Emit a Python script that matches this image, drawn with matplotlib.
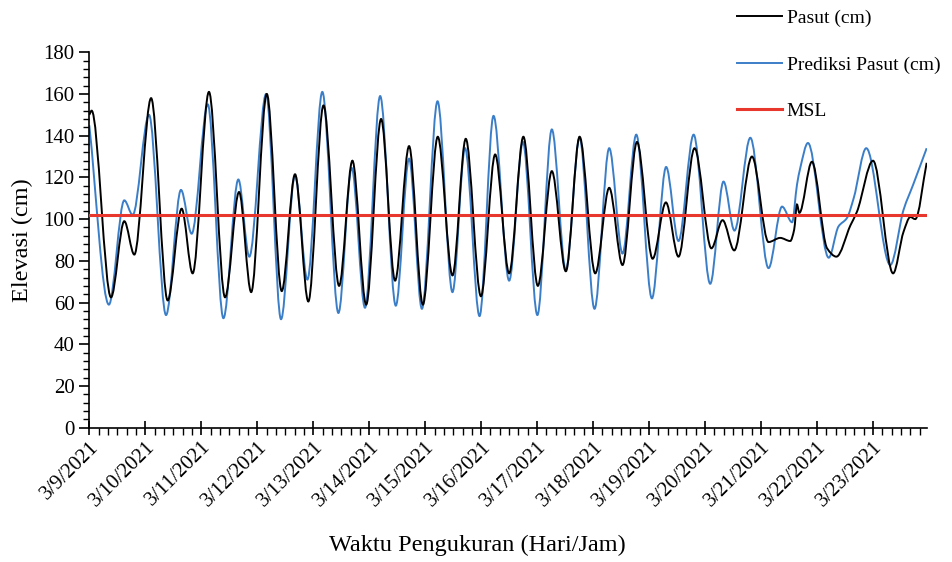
# Pasut vs prediksi pasut, 9-23 Maret 2021

import numpy as np
import matplotlib
matplotlib.use("Agg")
import matplotlib.pyplot as plt
import matplotlib.dates as mdates
from matplotlib.path import Path
from matplotlib.patches import PathPatch
from matplotlib.lines import Line2D
from matplotlib.ticker import FuncFormatter, MultipleLocator
from datetime import datetime

plt.rcParams['font.family'] = ['Liberation Serif', 'DejaVu Serif']

# Turning points: hours since 3/9/2021 00:00, elevation (cm)
pasut_jam = [0, 1, 9.3, 15.0, 19.3, 26.5, 33.6, 39.6, 44.3, 51.3, 58.2, 64.2, 69.4,
             76.1, 82.5, 88.2, 93.9, 100.4, 107.1, 112.8, 118.7, 125.1, 131.1, 137.1,
             143.0, 149.4, 155.7, 161.4, 167.9, 174.0, 180.0, 186.1, 192.3, 198.3,
             204.3, 210.2, 216.9, 222.9, 228.6, 234.8, 241.5, 247.2, 252.6, 259.5,
             266.7, 271.5, 276.5, 284.1, 291.2, 296.2, 300.5, 302.2, 303.4, 304.4,
             309.8, 316.3, 320.3, 326.3, 329.1, 336.0, 344.6, 349.1, 352.0, 354.1, 359]
pasut = [150, 152, 62.5, 99, 83, 158, 61, 105, 74, 161, 62.5, 113, 65,
         160, 65.5, 121.5, 60.5, 154.5, 68, 128, 59, 148, 70.5, 135,
         59, 139.5, 73, 138.5, 63, 131, 74, 139.5, 68, 123,
         75, 139.5, 74, 115, 78, 137, 81, 108, 82, 134,
         86, 99.5, 85, 130, 89, 91, 89.5, 95, 107, 103,
         127.5, 86, 82, 97, 103.5, 128, 74, 94, 101, 100, 127]

prediksi_jam = [0, 8.4, 15.0, 18.6, 25.6, 32.9, 39.3, 43.9, 50.8, 57.5, 63.9, 68.6,
                75.8, 82.2, 88.2, 93.5, 99.9, 106.8, 112.5, 118.2, 124.7, 131.4,
                137.1, 142.6, 149.3, 155.7, 161.1, 167.3, 173.3, 180.0, 185.9, 192.1,
                198.3, 204.3, 210.2, 216.6, 222.9, 228.6, 234.5, 241.2, 247.3, 252.6,
                259.1, 266.2, 271.9, 276.6, 283.4, 291.2, 297.0, 301.3, 303.4, 304.8,
                308.1, 317.0, 321.2, 324.8, 327.7, 333.1, 343.4, 349.1, 353.2, 359]
prediksi = [145, 59, 109, 102, 150, 54, 114, 93, 155, 52.5, 119, 82,
            160, 52, 121, 71, 161, 55, 124.5, 57.5, 159, 58.5,
            129, 57, 156.5, 65, 134, 53.5, 149.5, 70.5, 137, 54,
            143, 75.5, 139, 57, 134, 83.5, 140.5, 62, 125, 89.5,
            140.5, 69, 118, 94.5, 139, 76.5, 106, 98.5, 116.5, 124.5,
            136.5, 81.5, 96.5, 100.5, 110, 134, 78, 104.5, 116.5, 134]

msl = 102

start = datetime(2021, 3, 9)
x0 = mdates.date2num(start)
x_end = x0 + 359 / 24


def smooth_path(jam, nilai):
    # monotone cubic (Hermite) segments, drawn as Bezier curves by matplotlib
    x = x0 + np.asarray(jam, float) / 24
    y = np.asarray(nilai, float)
    h = np.diff(x)
    d = np.diff(y) / h
    m = np.zeros_like(y)
    m[0], m[-1] = d[0], d[-1]
    for k in range(1, len(y) - 1):
        if d[k - 1] * d[k] > 0:
            w1 = 2 * h[k] + h[k - 1]
            w2 = h[k] + 2 * h[k - 1]
            m[k] = (w1 + w2) / (w1 / d[k - 1] + w2 / d[k])
    verts = [(x[0], y[0])]
    codes = [Path.MOVETO]
    for k in range(len(h)):
        verts += [(x[k] + h[k] / 3, y[k] + m[k] * h[k] / 3),
                  (x[k + 1] - h[k] / 3, y[k + 1] - m[k + 1] * h[k] / 3),
                  (x[k + 1], y[k + 1])]
        codes += [Path.CURVE4] * 3
    return Path(verts, codes)


fig = plt.figure(figsize=(9.52, 5.62), dpi=100)
ax = fig.add_axes([0.0938, 0.239, 0.8796, 0.668])

black = 'black'
blue = '#3b7ec8'
red = '#e8382e'

ax.add_patch(PathPatch(smooth_path(pasut_jam, pasut), fill=False, edgecolor=black, lw=1.4, zorder=3))
ax.add_patch(PathPatch(smooth_path(prediksi_jam, prediksi), fill=False, edgecolor=blue, lw=1.4, zorder=2))
ax.plot([x0, x_end], [msl, msl], color=red, lw=2.2, zorder=4)

ax.set_xlim(x0, x_end)
ax.set_ylim(0, 180)

for s in ['top', 'right']:
    ax.spines[s].set_visible(False)
for s in ['left', 'bottom']:
    ax.spines[s].set_linewidth(1.2)

ax.yaxis.set_major_locator(MultipleLocator(20))
ax.yaxis.set_minor_locator(MultipleLocator(4))
ax.xaxis.set_major_locator(mdates.DayLocator())
ax.xaxis.set_minor_locator(mdates.HourLocator(byhour=range(0, 24, 4)))

def tanggal(val, pos):
    d = mdates.num2date(val)
    return f"{d.month}/{d.day}/{d.year}"

ax.xaxis.set_major_formatter(FuncFormatter(tanggal))
ax.tick_params(axis='x', which='major', direction='inout', length=10, width=1.2, labelsize=15, pad=2)
ax.tick_params(axis='x', which='minor', direction='out', length=5, width=1)
ax.tick_params(axis='y', which='major', direction='out', length=7, width=1.2, labelsize=15)
ax.tick_params(axis='y', which='minor', direction='out', length=4, width=1)
plt.setp(ax.get_xticklabels(), rotation=45, ha='right', rotation_mode='anchor')

ax.set_ylabel("Elevasi (cm)", fontsize=17.5, va='center')
ax.yaxis.set_label_coords(-0.08, 0.5)
ax.set_xlabel("Waktu Pengukuran (Hari/Jam)", fontsize=17.5, va='center')
ax.xaxis.set_label_coords(0.464, -0.3125)

handles = [Line2D([], [], color=black, lw=1.4),
           Line2D([], [], color=blue, lw=1.4),
           Line2D([], [], color=red, lw=2.2)]
fig.legend(handles, ["Pasut (cm)", "Prediksi Pasut (cm)", "MSL"],
           loc='upper left', bbox_to_anchor=(737 / 952, 1 - 9 / 562),
           frameon=False, fontsize=14, handlelength=2.3, handletextpad=0.26,
           labelspacing=1.5, borderpad=0, borderaxespad=0)

fig.savefig("out.png", dpi=100)
